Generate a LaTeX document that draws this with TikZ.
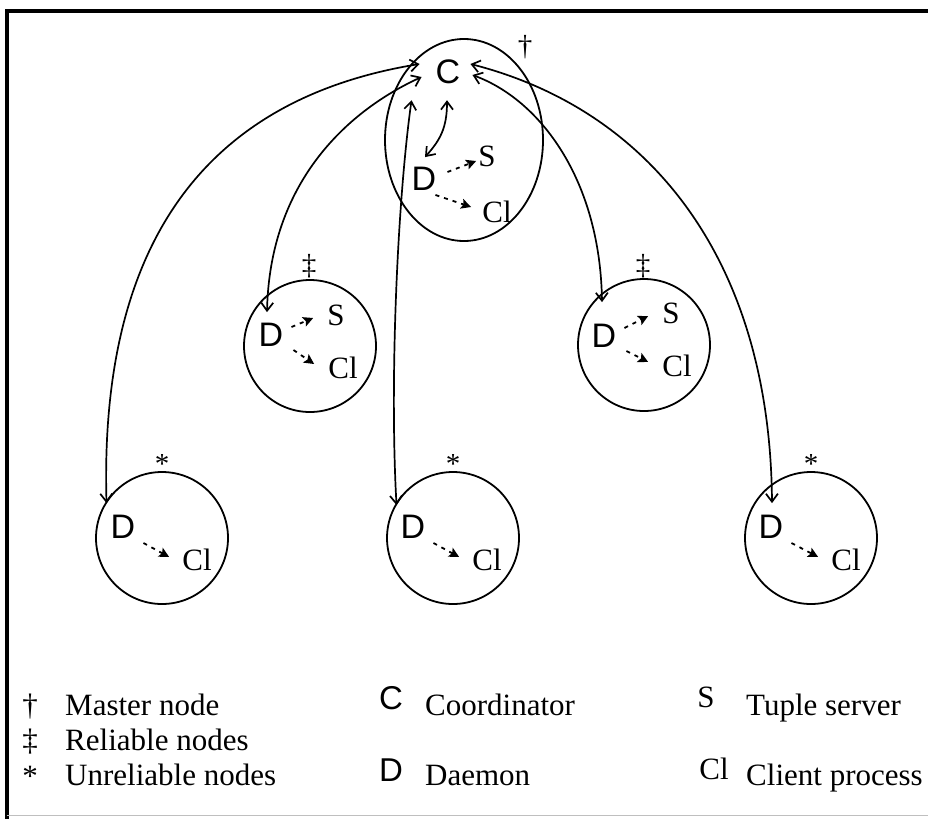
\documentclass[tikz,border=0pt]{standalone}
\usepackage{fontspec}
\setmainfont{Liberation Serif}
\newfontfamily\sansletter{Liberation Sans}
\usetikzlibrary{arrows.meta,shapes.geometric}

\begin{document}
\begin{tikzpicture}[x=1pt,y=-1pt,
  proc/.style={font=\sansletter\fontsize{34}{34}\selectfont, inner sep=0pt},
  rom/.style={font=\fontsize{31}{31}\selectfont, inner sep=0pt},
  host/.style={draw, circle, line width=1.8pt, minimum size=132pt, inner sep=0pt},
  tag/.style={font=\fontsize{29}{29}\selectfont, inner sep=0pt},
  link/.style={line width=1.7pt,
    {Straight Barb[length=8pt,width=12pt,line width=1.7pt]}-{Straight Barb[length=8pt,width=12pt,line width=1.7pt]}},
  local/.style={line width=1.8pt, dash pattern=on 4pt off 5pt,
    -{Stealth[length=10pt,width=10pt,inset=2pt]}},
  legtext/.style={font=\fontsize{31}{31}\selectfont, anchor=base west, inner sep=0pt},
  legsym/.style={font=\fontsize{31}{31}\selectfont, anchor=base, inner sep=0pt},
  legproc/.style={font=\sansletter\fontsize{33}{33}\selectfont, anchor=base, inner sep=0pt}
]
\useasboundingbox (0,0) rectangle (928,819);

% frame
\draw[line width=4pt] (928,11) -- (6.5,11) -- (6.5,819);
\draw[black!25, line width=1pt] (6.5,815) -- (928,815);

% hosts
\node[draw, ellipse, line width=1.8pt, minimum width=158pt, minimum height=202pt, inner sep=0pt] (master) at (464,140) {};
\node[host] (r1) at (310,346) {};
\node[host] (r2) at (644,345) {};
\node[host] (u1) at (162,538) {};
\node[host] (u2) at (453,538) {};
\node[host] (u3) at (811,538) {};

% host kind markers
\node[tag] (tm) at (525,47) {†};
\node[tag] (tr1) at (309,266) {‡};
\node[tag] (tr2) at (643,266) {‡};
\node[tag] (tu1) at (162,464) {*};
\node[tag] (tu2) at (453,464) {*};
\node[tag] (tu3) at (811,464) {*};

% processes on the master node
\node[proc] (C) at (448,72) {C};
\node[proc] (Dm) at (424,179) {D};
\node[rom] (Sm) at (487,156) {S};
\node[rom] (Clm) at (497,212) {Cl};

% processes on the reliable nodes
\node[proc] (Dr1) at (271,335) {D};
\node[rom] (Sr1) at (336,315) {S};
\node[rom] (Clr1) at (343,368) {Cl};
\node[proc] (Dr2) at (604,336) {D};
\node[rom] (Sr2) at (671,313) {S};
\node[rom] (Clr2) at (677,366) {Cl};

% processes on the unreliable nodes
\node[proc] (Du1) at (123,527) {D};
\node[rom] (Clu1) at (197,560) {Cl};
\node[proc] (Du2) at (413,527) {D};
\node[rom] (Clu2) at (487,560) {Cl};
\node[proc] (Du3) at (771,527) {D};
\node[rom] (Clu3) at (846,560) {Cl};

% coordinator <-> daemons
\draw[link] ([shift={(-1,16)}]C.south) .. controls +(0,28) and +(15,-17) .. ([shift={(1,-10)}]Dm.north);
\draw[link] ([shift={(-16,-8)}]C.west) .. controls +(-220,36) and +(-7,-253) .. ([shift={(-4,-12)}]Du1.north west);
\draw[link] ([shift={(-14,5)}]C.west) .. controls +(-72,33) and +(3,-132) .. ([shift={(-4,-11)}]Dr1.north);
\draw[link] ([shift={(-24,16)}]C.south west) .. controls +(-14,100) and +(-7,-125) .. ([shift={(-4,-10)}]Du2.north west);
\draw[link] ([shift={(12,3)}]C.east) .. controls +(68,25) and +(-2,-122) .. ([shift={(-2,-22)}]Dr2.north);
\draw[link] ([shift={(10,-8)}]C.east) .. controls +(180,46) and +(-2,-243) .. ([shift={(1,-12)}]Du3.north);

% daemons start local processes
\draw[local] ([shift={(11,-7)}]Dm.east) -- ([shift={(-2,5)}]Sm.west);
\draw[local] ([shift={(-1,16)}]Dm.east) -- ([shift={(-11,-5)}]Clm.west);
\draw[local] ([shift={(8,-8)}]Dr1.east) -- ([shift={(-14,3)}]Sr1.west);
\draw[local] ([shift={(10,15)}]Dr1.east) -- ([shift={(-14,-4)}]Clr1.west);
\draw[local] ([shift={(8,-8)}]Dr2.east) -- ([shift={(-14,3)}]Sr2.west);
\draw[local] ([shift={(10,15)}]Dr2.east) -- ([shift={(-14,-4)}]Clr2.west);
\draw[local] ([shift={(8,16)}]Du1.east) -- ([shift={(-13,-3)}]Clu1.west);
\draw[local] ([shift={(8,16)}]Du2.east) -- ([shift={(-13,-3)}]Clu2.west);
\draw[local] ([shift={(8,16)}]Du3.east) -- ([shift={(-13,-3)}]Clu3.west);

% legend
\node[legsym] (k1) at (30,715) {†};
\node[legtext] (k1t) at (65,715) {Master node};
\node[legsym] (k2) at (30,750) {‡};
\node[legtext] (k2t) at (65,750) {Reliable nodes};
\node[legsym] (k3) at (30,786) {*};
\node[legtext] (k3t) at (65,785) {Unreliable nodes};

\node[legproc] (kC) at (391,709) {C};
\node[legtext] (kCt) at (425,715) {Coordinator};
\node[legproc] (kD) at (391,781) {D};
\node[legtext] (kDt) at (425,785) {Daemon};

\node[legsym] (kS) at (706,707) {S};
\node[legtext] (kSt) at (746,715) {Tuple server};
\node[legsym] (kCl) at (714,779) {Cl};
\node[legtext] (kClt) at (746,785) {Client process};
\end{tikzpicture}
\end{document}
